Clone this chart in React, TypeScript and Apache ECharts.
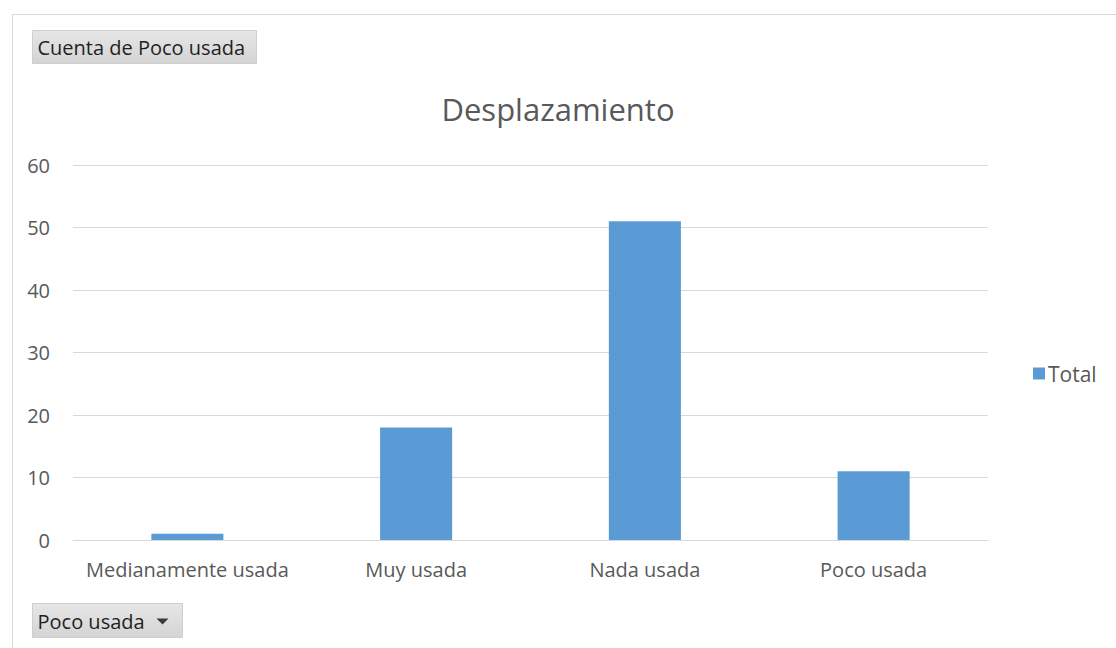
import React, { useEffect, useRef } from "react";
import * as echarts from "echarts";

const categories = ["Medianamente usada", "Muy usada", "Nada usada", "Poco usada"];
const totals = [1, 18, 51, 11];
const yTicks = { min: 0, max: 60, interval: 10 };
const titleText = "Desplazamiento";
const seriesName = "Total";
const fieldButton = "Cuenta de Poco usada";
const axisButton = "Poco usada";

const FONT = "'Open Sans', 'Noto Sans', sans-serif";

export default function App() {
  const ref = useRef<HTMLDivElement>(null);
  useEffect(() => {
    if (!ref.current) return;
    const chart = echarts.init(ref.current, undefined, { renderer: "svg" });
    const btnFill = () =>
      new echarts.graphic.LinearGradient(0, 0, 0, 1, [
        { offset: 0, color: "#e6e6e6" },
        { offset: 1, color: "#d4d4d4" },
      ]);
    chart.setOption({
      animation: false,
      backgroundColor: "#ffffff",
      title: {
        text: titleText,
        left: "center",
        top: 88,
        textStyle: { fontFamily: FONT, fontSize: 31, fontWeight: "normal", color: "#595959" },
      },
      legend: {
        orient: "vertical",
        left: 1028,
        top: 358,
        itemWidth: 12,
        itemHeight: 12,
        itemGap: 6,
        icon: "rect",
        textStyle: { fontFamily: FONT, fontSize: 21, color: "#595959", padding: [0, 0, 0, -2] },
        data: [seriesName],
      },
      grid: { left: 73, right: 128, top: 165, bottom: 108 },
      xAxis: {
        type: "category",
        data: categories,
        axisLine: { lineStyle: { color: "#d9d9d9", width: 1 } },
        axisTick: { show: false },
        axisLabel: {
          fontFamily: FONT,
          fontSize: 20,
          color: "#595959",
          margin: 19,
          interval: 0,
          hideOverlap: false,
        },
      },
      yAxis: {
        type: "value",
        min: yTicks.min,
        max: yTicks.max,
        interval: yTicks.interval,
        axisLine: { show: false },
        axisTick: { show: false },
        splitLine: { lineStyle: { color: "#d9d9d9", width: 1 } },
        axisLabel: { fontFamily: FONT, fontSize: 20, color: "#595959", margin: 23 },
      },
      series: [
        {
          name: seriesName,
          type: "bar",
          data: totals,
          barWidth: "31.5%",
          itemStyle: { color: "#5b9bd5" },
        },
      ],
      graphic: [
        {
          type: "rect",
          shape: { x: 12.5, y: 14.5, width: 1200, height: 700 },
          style: { fill: "none", stroke: "#d9d9d9", lineWidth: 1 },
          silent: true,
        },
        {
          type: "group",
          left: 32,
          top: 30,
          children: [
            {
              type: "rect",
              shape: { x: 0, y: 0, width: 224, height: 33 },
              style: { fill: btnFill(), stroke: "#cfcfcf", lineWidth: 1 },
            },
            {
              type: "text",
              x: 5,
              y: 17,
              style: {
                text: fieldButton,
                fontFamily: FONT,
                fontSize: 20,
                fill: "#1f1f1f",
                verticalAlign: "middle",
              },
            },
          ],
        },
        {
          type: "group",
          left: 32,
          top: 603,
          children: [
            {
              type: "rect",
              shape: { x: 0, y: 0, width: 150, height: 34 },
              style: { fill: btnFill(), stroke: "#cfcfcf", lineWidth: 1 },
            },
            {
              type: "text",
              x: 5,
              y: 18,
              style: {
                text: axisButton,
                fontFamily: FONT,
                fontSize: 20,
                fill: "#1f1f1f",
                verticalAlign: "middle",
              },
            },
            {
              type: "polygon",
              shape: { points: [[124, 15], [136, 15], [130, 21]] },
              style: { fill: "#3a3a3a" },
            },
          ],
        },
      ],
    });
    return () => chart.dispose();
  }, []);
  return (
    <div
      ref={ref}
      style={{ position: "fixed", left: 0, top: 0, width: 1116, height: 648 }}
    />
  );
}
